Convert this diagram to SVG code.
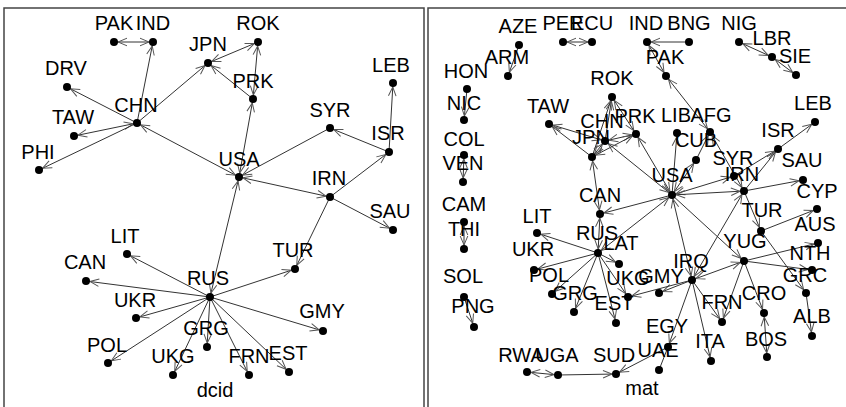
<svg xmlns="http://www.w3.org/2000/svg" width="846" height="407" viewBox="0 0 846 407">
<style>
.frame{fill:none;stroke:#444;stroke-width:1.5}
.e{stroke:#333;stroke-width:1;fill:none}
.d{marker-end:url(#ah)}
.m{marker-start:url(#ah);marker-end:url(#ah)}
.v{fill:#000}
.lb{font-family:"Liberation Sans",Arial,sans-serif;font-size:20px;fill:#000;text-anchor:middle}
</style>
<defs>
<marker id="ah" viewBox="0 0 16 10" refX="15" refY="5" markerWidth="16" markerHeight="10" markerUnits="userSpaceOnUse" orient="auto-start-reverse">
<path d="M2,1.2 L11,5 L2,8.8" fill="none" stroke="#555" stroke-width="1"/>
</marker>
</defs>
<rect width="846" height="407" fill="#fff"/>
<rect class="frame" x="4" y="8" width="420" height="400"/>
<rect class="frame" x="428" y="8" width="420" height="400"/>

<!-- left panel: dcid -->
<g id="dcid-edges">
<line class="e m" x1="114" y1="42" x2="153" y2="42"/>
<line class="e d" x1="137" y1="123" x2="153" y2="42"/>
<line class="e d" x1="137" y1="123" x2="67" y2="87"/>
<line class="e m" x1="137" y1="123" x2="74" y2="136"/>
<line class="e d" x1="137" y1="123" x2="39" y2="170"/>
<line class="e d" x1="137" y1="123" x2="208" y2="63"/>
<line class="e m" x1="239" y1="177" x2="137" y2="123"/>
<line class="e m" x1="258" y1="42" x2="208" y2="63"/>
<line class="e d" x1="253" y1="99" x2="208" y2="63"/>
<line class="e m" x1="253" y1="99" x2="258" y2="42"/>
<line class="e m" x1="239" y1="177" x2="253" y2="99"/>
<line class="e d" x1="330" y1="128" x2="239" y2="177"/>
<line class="e d" x1="389" y1="152" x2="330" y2="128"/>
<line class="e d" x1="389" y1="152" x2="393" y2="83"/>
<line class="e d" x1="330" y1="197" x2="389" y2="152"/>
<line class="e m" x1="239" y1="177" x2="330" y2="197"/>
<line class="e d" x1="330" y1="197" x2="393" y2="230"/>
<line class="e d" x1="330" y1="197" x2="295" y2="269"/>
<line class="e m" x1="210" y1="297" x2="239" y2="177"/>
<line class="e d" x1="210" y1="297" x2="295" y2="269"/>
<line class="e d" x1="210" y1="297" x2="127" y2="254"/>
<line class="e d" x1="210" y1="297" x2="86" y2="281"/>
<line class="e d" x1="210" y1="297" x2="136" y2="318"/>
<line class="e d" x1="210" y1="297" x2="108" y2="363"/>
<line class="e d" x1="210" y1="297" x2="173" y2="375"/>
<line class="e d" x1="210" y1="297" x2="207" y2="347"/>
<line class="e d" x1="210" y1="297" x2="249" y2="375"/>
<line class="e d" x1="210" y1="297" x2="289" y2="372"/>
<line class="e d" x1="210" y1="297" x2="323" y2="331"/>
</g>
<g id="L-PAK"><circle class="v" cx="114" cy="42" r="4"/><text class="lb" x="114" y="30">PAK</text></g>
<g id="L-IND"><circle class="v" cx="153" cy="42" r="4"/><text class="lb" x="153" y="30">IND</text></g>
<g id="L-JPN"><circle class="v" cx="208" cy="63" r="4"/><text class="lb" x="208" y="51">JPN</text></g>
<g id="L-ROK"><circle class="v" cx="258" cy="42" r="4"/><text class="lb" x="258" y="30">ROK</text></g>
<g id="L-DRV"><circle class="v" cx="67" cy="87" r="4"/><text class="lb" x="66" y="75">DRV</text></g>
<g id="L-CHN"><circle class="v" cx="137" cy="123" r="4"/><text class="lb" x="136" y="112">CHN</text></g>
<g id="L-TAW"><circle class="v" cx="74" cy="136" r="4"/><text class="lb" x="73" y="124">TAW</text></g>
<g id="L-PHI"><circle class="v" cx="39" cy="170" r="4"/><text class="lb" x="38" y="159">PHI</text></g>
<g id="L-PRK"><circle class="v" cx="253" cy="99" r="4"/><text class="lb" x="253" y="88">PRK</text></g>
<g id="L-SYR"><circle class="v" cx="330" cy="128" r="4"/><text class="lb" x="330" y="117">SYR</text></g>
<g id="L-ISR"><circle class="v" cx="389" cy="152" r="4"/><text class="lb" x="388" y="140">ISR</text></g>
<g id="L-LEB"><circle class="v" cx="393" cy="83" r="4"/><text class="lb" x="391" y="72">LEB</text></g>
<g id="L-USA"><circle class="v" cx="239" cy="177" r="4"/><text class="lb" x="239" y="166">USA</text></g>
<g id="L-IRN"><circle class="v" cx="330" cy="197" r="4"/><text class="lb" x="329" y="185">IRN</text></g>
<g id="L-SAU"><circle class="v" cx="393" cy="230" r="4"/><text class="lb" x="390" y="218">SAU</text></g>
<g id="L-TUR"><circle class="v" cx="295" cy="269" r="4"/><text class="lb" x="293" y="257">TUR</text></g>
<g id="L-RUS"><circle class="v" cx="210" cy="297" r="4"/><text class="lb" x="208" y="285">RUS</text></g>
<g id="L-LIT"><circle class="v" cx="127" cy="254" r="4"/><text class="lb" x="125" y="243">LIT</text></g>
<g id="L-CAN"><circle class="v" cx="86" cy="281" r="4"/><text class="lb" x="85" y="269">CAN</text></g>
<g id="L-UKR"><circle class="v" cx="136" cy="318" r="4"/><text class="lb" x="135" y="307">UKR</text></g>
<g id="L-POL"><circle class="v" cx="108" cy="363" r="4"/><text class="lb" x="107" y="352">POL</text></g>
<g id="L-UKG"><circle class="v" cx="173" cy="375" r="4"/><text class="lb" x="173" y="363">UKG</text></g>
<g id="L-GRG"><circle class="v" cx="207" cy="347" r="4"/><text class="lb" x="206" y="335">GRG</text></g>
<g id="L-FRN"><circle class="v" cx="249" cy="375" r="4"/><text class="lb" x="249" y="363">FRN</text></g>
<g id="L-EST"><circle class="v" cx="289" cy="372" r="4"/><text class="lb" x="288" y="360">EST</text></g>
<g id="L-GMY"><circle class="v" cx="323" cy="331" r="4"/><text class="lb" x="322" y="318">GMY</text></g>
<text class="lb" x="215" y="397">dcid</text>

<!-- right panel: mat -->
<g id="mat-edges">
<line class="e d" x1="519" y1="45" x2="508" y2="76"/>
<line class="e m" x1="563" y1="42" x2="592" y2="42"/>
<line class="e d" x1="689" y1="42" x2="647" y2="42"/>
<line class="e m" x1="647" y1="42" x2="666" y2="76"/>
<line class="e m" x1="739" y1="42" x2="772" y2="57"/>
<line class="e m" x1="772" y1="57" x2="796" y2="75"/>
<line class="e m" x1="666" y1="76" x2="710" y2="132"/>
<line class="e d" x1="467" y1="89" x2="464" y2="120"/>
<line class="e m" x1="464" y1="155" x2="463" y2="182"/>
<line class="e m" x1="464" y1="222" x2="464" y2="249"/>
<line class="e d" x1="464" y1="297" x2="474" y2="327"/>
<line class="e d" x1="605" y1="141" x2="612" y2="97"/>
<line class="e d" x1="592" y1="157" x2="612" y2="97"/>
<line class="e m" x1="636" y1="134" x2="612" y2="97"/>
<line class="e m" x1="605" y1="141" x2="549" y2="124"/>
<line class="e d" x1="592" y1="157" x2="549" y2="124"/>
<line class="e m" x1="605" y1="141" x2="636" y2="134"/>
<line class="e m" x1="592" y1="157" x2="636" y2="134"/>
<line class="e m" x1="605" y1="141" x2="592" y2="157"/>
<line class="e m" x1="672" y1="195" x2="605" y2="141"/>
<line class="e m" x1="672" y1="195" x2="636" y2="134"/>
<line class="e d" x1="672" y1="195" x2="677" y2="133"/>
<line class="e m" x1="672" y1="195" x2="696" y2="160"/>
<line class="e d" x1="696" y1="160" x2="710" y2="132"/>
<line class="e m" x1="710" y1="132" x2="744" y2="191"/>
<line class="e d" x1="672" y1="195" x2="600" y2="214"/>
<line class="e m" x1="592" y1="157" x2="600" y2="214"/>
<line class="e m" x1="600" y1="214" x2="598" y2="253"/>
<line class="e m" x1="672" y1="195" x2="598" y2="253"/>
<line class="e m" x1="672" y1="195" x2="734" y2="176"/>
<line class="e m" x1="672" y1="195" x2="744" y2="191"/>
<line class="e d" x1="734" y1="176" x2="778" y2="149"/>
<line class="e d" x1="744" y1="191" x2="778" y2="149"/>
<line class="e d" x1="778" y1="149" x2="815" y2="122"/>
<line class="e d" x1="744" y1="191" x2="803" y2="180"/>
<line class="e d" x1="744" y1="191" x2="761" y2="231"/>
<line class="e d" x1="761" y1="231" x2="817" y2="209"/>
<line class="e d" x1="761" y1="231" x2="806" y2="293"/>
<line class="e d" x1="672" y1="195" x2="744" y2="261"/>
<line class="e m" x1="672" y1="195" x2="692" y2="280"/>
<line class="e m" x1="744" y1="191" x2="692" y2="280"/>
<line class="e m" x1="692" y1="280" x2="744" y2="261"/>
<line class="e d" x1="744" y1="261" x2="818" y2="243"/>
<line class="e d" x1="744" y1="261" x2="812" y2="270"/>
<line class="e d" x1="744" y1="261" x2="764" y2="313"/>
<line class="e d" x1="744" y1="261" x2="722" y2="322"/>
<line class="e d" x1="806" y1="293" x2="812" y2="336"/>
<line class="e m" x1="764" y1="313" x2="767" y2="357"/>
<line class="e d" x1="692" y1="280" x2="722" y2="322"/>
<line class="e d" x1="692" y1="280" x2="711" y2="361"/>
<line class="e d" x1="692" y1="280" x2="668" y2="347"/>
<line class="e d" x1="692" y1="280" x2="659" y2="293"/>
<line class="e d" x1="692" y1="280" x2="628" y2="297"/>
<line class="e" x1="668" y1="347" x2="659" y2="370"/>
<line class="e d" x1="668" y1="347" x2="616" y2="374"/>
<line class="e d" x1="558" y1="375" x2="616" y2="374"/>
<line class="e m" x1="527" y1="372" x2="558" y2="375"/>
<line class="e d" x1="598" y1="253" x2="537" y2="233"/>
<line class="e d" x1="598" y1="253" x2="534" y2="270"/>
<line class="e d" x1="598" y1="253" x2="552" y2="294"/>
<line class="e d" x1="598" y1="253" x2="574" y2="312"/>
<line class="e d" x1="598" y1="253" x2="616" y2="323"/>
<line class="e d" x1="598" y1="253" x2="628" y2="297"/>
<line class="e d" x1="598" y1="253" x2="619" y2="264"/>
</g>
<g id="R-AZE"><circle class="v" cx="519" cy="45" r="4"/><text class="lb" x="518" y="33">AZE</text></g>
<g id="R-ARM"><circle class="v" cx="508" cy="76" r="4"/><text class="lb" x="507" y="64">ARM</text></g>
<g id="R-PER"><circle class="v" cx="563" cy="42" r="4"/><text class="lb" x="563" y="30">PER</text></g>
<g id="R-ECU"><circle class="v" cx="592" cy="42" r="4"/><text class="lb" x="592" y="30">ECU</text></g>
<g id="R-IND"><circle class="v" cx="647" cy="42" r="4"/><text class="lb" x="646" y="30">IND</text></g>
<g id="R-BNG"><circle class="v" cx="689" cy="42" r="4"/><text class="lb" x="689" y="30">BNG</text></g>
<g id="R-NIG"><circle class="v" cx="739" cy="42" r="4"/><text class="lb" x="739" y="30">NIG</text></g>
<g id="R-LBR"><circle class="v" cx="772" cy="57" r="4"/><text class="lb" x="772" y="45">LBR</text></g>
<g id="R-SIE"><circle class="v" cx="796" cy="75" r="4"/><text class="lb" x="795" y="63">SIE</text></g>
<g id="R-PAK"><circle class="v" cx="666" cy="76" r="4"/><text class="lb" x="665" y="64">PAK</text></g>
<g id="R-HON"><circle class="v" cx="467" cy="89" r="4"/><text class="lb" x="466" y="78">HON</text></g>
<g id="R-NIC"><circle class="v" cx="464" cy="120" r="4"/><text class="lb" x="464" y="110">NIC</text></g>
<g id="R-COL"><circle class="v" cx="464" cy="155" r="4"/><text class="lb" x="464" y="146">COL</text></g>
<g id="R-VEN"><circle class="v" cx="463" cy="182" r="4"/><text class="lb" x="463" y="170">VEN</text></g>
<g id="R-CAM"><circle class="v" cx="464" cy="222" r="4"/><text class="lb" x="464" y="211">CAM</text></g>
<g id="R-THI"><circle class="v" cx="464" cy="249" r="4"/><text class="lb" x="464" y="236">THI</text></g>
<g id="R-SOL"><circle class="v" cx="464" cy="297" r="4"/><text class="lb" x="463" y="283">SOL</text></g>
<g id="R-PNG"><circle class="v" cx="474" cy="327" r="4"/><text class="lb" x="473" y="313">PNG</text></g>
<g id="R-ROK"><circle class="v" cx="612" cy="97" r="4"/><text class="lb" x="612" y="85">ROK</text></g>
<g id="R-TAW"><circle class="v" cx="549" cy="124" r="4"/><text class="lb" x="548" y="113">TAW</text></g>
<g id="R-CHN"><circle class="v" cx="605" cy="141" r="4"/><text class="lb" x="602" y="128">CHN</text></g>
<g id="R-PRK"><circle class="v" cx="636" cy="134" r="4"/><text class="lb" x="635" y="123">PRK</text></g>
<g id="R-JPN"><circle class="v" cx="592" cy="157" r="4"/><text class="lb" x="591" y="144">JPN</text></g>
<g id="R-LIB"><circle class="v" cx="677" cy="133" r="4"/><text class="lb" x="676" y="122">LIB</text></g>
<g id="R-AFG"><circle class="v" cx="710" cy="132" r="4"/><text class="lb" x="711" y="122">AFG</text></g>
<g id="R-CUB"><circle class="v" cx="696" cy="160" r="4"/><text class="lb" x="696" y="147">CUB</text></g>
<g id="R-LEB"><circle class="v" cx="815" cy="122" r="4"/><text class="lb" x="813" y="110">LEB</text></g>
<g id="R-ISR"><circle class="v" cx="778" cy="149" r="4"/><text class="lb" x="778" y="137">ISR</text></g>
<g id="R-SYR"><circle class="v" cx="734" cy="176" r="4"/><text class="lb" x="733" y="165">SYR</text></g>
<g id="R-IRN"><circle class="v" cx="744" cy="191" r="4"/><text class="lb" x="742" y="181">IRN</text></g>
<g id="R-SAU"><circle class="v" cx="803" cy="180" r="4"/><text class="lb" x="802" y="167">SAU</text></g>
<g id="R-USA"><circle class="v" cx="672" cy="195" r="4"/><text class="lb" x="672" y="182">USA</text></g>
<g id="R-CAN"><circle class="v" cx="600" cy="214" r="4"/><text class="lb" x="600" y="202">CAN</text></g>
<g id="R-CYP"><circle class="v" cx="817" cy="209" r="4"/><text class="lb" x="817" y="198">CYP</text></g>
<g id="R-TUR"><circle class="v" cx="761" cy="231" r="4"/><text class="lb" x="762" y="217">TUR</text></g>
<g id="R-AUS"><circle class="v" cx="818" cy="243" r="4"/><text class="lb" x="815" y="231">AUS</text></g>
<g id="R-YUG"><circle class="v" cx="744" cy="261" r="4"/><text class="lb" x="745" y="248">YUG</text></g>
<g id="R-NTH"><circle class="v" cx="812" cy="270" r="4"/><text class="lb" x="810" y="260">NTH</text></g>
<g id="R-GRC"><circle class="v" cx="806" cy="293" r="4"/><text class="lb" x="805" y="282">GRC</text></g>
<g id="R-ALB"><circle class="v" cx="812" cy="336" r="4"/><text class="lb" x="812" y="323">ALB</text></g>
<g id="R-CRO"><circle class="v" cx="764" cy="313" r="4"/><text class="lb" x="764" y="300">CRO</text></g>
<g id="R-BOS"><circle class="v" cx="767" cy="357" r="4"/><text class="lb" x="766" y="346">BOS</text></g>
<g id="R-FRN"><circle class="v" cx="722" cy="322" r="4"/><text class="lb" x="722" y="309">FRN</text></g>
<g id="R-ITA"><circle class="v" cx="711" cy="361" r="4"/><text class="lb" x="710" y="348">ITA</text></g>
<g id="R-IRQ"><circle class="v" cx="692" cy="280" r="4"/><text class="lb" x="691" y="268">IRQ</text></g>
<g id="R-GMY"><circle class="v" cx="659" cy="293" r="4"/><text class="lb" x="661" y="283">GMY</text></g>
<g id="R-UKG"><circle class="v" cx="628" cy="297" r="4"/><text class="lb" x="628" y="285">UKG</text></g>
<g id="R-EST"><circle class="v" cx="616" cy="323" r="4"/><text class="lb" x="614" y="310">EST</text></g>
<g id="R-LAT"><circle class="v" cx="619" cy="264" r="4"/><text class="lb" x="621" y="250">LAT</text></g>
<g id="R-RUS"><circle class="v" cx="598" cy="253" r="4"/><text class="lb" x="597" y="240">RUS</text></g>
<g id="R-LIT"><circle class="v" cx="537" cy="233" r="4"/><text class="lb" x="537" y="223">LIT</text></g>
<g id="R-UKR"><circle class="v" cx="534" cy="270" r="4"/><text class="lb" x="533" y="256">UKR</text></g>
<g id="R-POL"><circle class="v" cx="552" cy="294" r="4"/><text class="lb" x="549" y="282">POL</text></g>
<g id="R-GRG"><circle class="v" cx="574" cy="312" r="4"/><text class="lb" x="575" y="300">GRG</text></g>
<g id="R-EGY"><circle class="v" cx="668" cy="347" r="4"/><text class="lb" x="667" y="333">EGY</text></g>
<g id="R-UAE"><circle class="v" cx="659" cy="370" r="4"/><text class="lb" x="658" y="357">UAE</text></g>
<g id="R-SUD"><circle class="v" cx="616" cy="374" r="4"/><text class="lb" x="614" y="362">SUD</text></g>
<g id="R-UGA"><circle class="v" cx="558" cy="375" r="4"/><text class="lb" x="557" y="362">UGA</text></g>
<g id="R-RWA"><circle class="v" cx="527" cy="372" r="4"/><text class="lb" x="521" y="362">RWA</text></g>
<text class="lb" x="642" y="395">mat</text>
</svg>
